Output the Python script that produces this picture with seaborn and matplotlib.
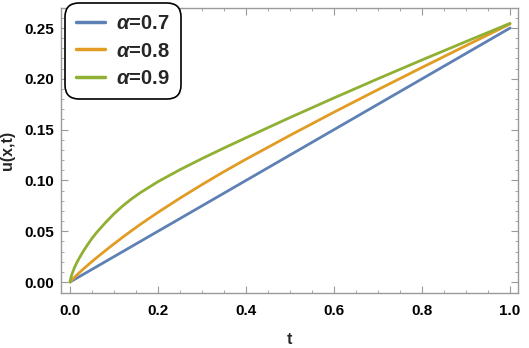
import numpy as np
import pandas as pd
import matplotlib
matplotlib.use("Agg")
import matplotlib.pyplot as plt
import seaborn as sns

# valeurs
t = [0, 0.0025, 0.005, 0.01, 0.015, 0.02, 0.03, 0.04, 0.05, 0.06, 0.08, 0.1, 0.12, 0.14,
     0.16, 0.2, 0.25, 0.3, 0.35, 0.4, 0.5, 0.6, 0.7, 0.8, 0.9, 1.0]
u_07 = [0, 0.000625, 0.00125, 0.0025, 0.00375, 0.005, 0.0075, 0.01, 0.0125, 0.015, 0.02,
        0.025, 0.03, 0.035, 0.04, 0.05, 0.0625, 0.075, 0.0875, 0.1, 0.125, 0.15, 0.175,
        0.2, 0.225, 0.25]
u_08 = [0, 0.00125, 0.0024, 0.0046, 0.0067, 0.00875, 0.0127, 0.0165, 0.0202, 0.0238, 0.0308,
        0.0376, 0.0442, 0.0506, 0.0568, 0.0686, 0.0826, 0.0959, 0.1087, 0.1209, 0.1444,
        0.1672, 0.1894, 0.2112, 0.2327, 0.2540]
u_09 = [0, 0.0051, 0.0085, 0.0141, 0.0187, 0.0228, 0.0302, 0.0368, 0.0430, 0.0485, 0.0582,
        0.0672, 0.0750, 0.0819, 0.0880, 0.0988, 0.1106, 0.1215, 0.1319, 0.1420, 0.1619,
        0.1812, 0.2001, 0.2186, 0.2367, 0.2546]
labels = [r"$\alpha$=0.7", r"$\alpha$=0.8", r"$\alpha$=0.9"]
couleurs = ["#5E81B5", "#E19C24", "#8FB032"]

sns.set_style("ticks")
plt.rcParams["font.family"] = ["Liberation Sans", "DejaVu Sans"]
plt.rcParams["font.weight"] = "bold"
plt.rcParams["mathtext.fontset"] = "custom"
plt.rcParams["mathtext.it"] = "Liberation Sans:italic:bold"
plt.rcParams["mathtext.rm"] = "Liberation Sans:bold"

fig = plt.figure(figsize=(5.29, 3.48), dpi=100)
ax = fig.add_axes([61 / 529, 1 - 293 / 348, 457 / 529, 285 / 348])

for serie, lab, c in zip([u_07, u_08, u_09], labels, couleurs):
    df = pd.DataFrame({"t": t, "u": serie})
    sns.lineplot(data=df, x="t", y="u", ax=ax, color=c, linewidth=2.0, label=lab)

ax.set_xlim(-0.0205, 1.018)
ax.set_ylim(-0.0108, 0.2697)
ax.set_xticks(np.arange(0, 1.01, 0.2))
ax.set_xticks(np.arange(0, 1.01, 0.05), minor=True)
ax.set_yticks(np.arange(0, 0.26, 0.05))
ax.set_yticks(np.arange(0, 0.27, 0.01), minor=True)
ax.set_xticklabels([f"{v:.1f}" for v in np.arange(0, 1.01, 0.2)])
ax.set_yticklabels([f"{v:.2f}" for v in np.arange(0, 0.26, 0.05)])

gris = "#9a9a9a"
for s in ax.spines.values():
    s.set_visible(True)
    s.set_color(gris)
    s.set_linewidth(1.0)
ax.tick_params(which="both", direction="in", top=True, right=True, color=gris,
               labelsize=11, labelcolor="black")
ax.tick_params(axis="x", pad=8)
ax.tick_params(axis="y", pad=5)
ax.tick_params(which="major", length=5, width=0.8)
ax.tick_params(which="minor", length=2.5, width=0.6)
for lbl in ax.get_xticklabels() + ax.get_yticklabels():
    lbl.set_fontweight("bold")

ax.set_xlabel("t", fontsize=11.5, fontweight="bold", labelpad=10)
ax.set_ylabel("u(x,t)", fontsize=11.5, fontweight="bold", labelpad=7)

leg = ax.legend(loc="upper left", bbox_to_anchor=(65 / 529, 1 - 3 / 348),
                bbox_transform=fig.transFigure, borderaxespad=0,
                prop={"size": 14.5, "weight": "bold"}, handlelength=1.45,
                handletextpad=0.55, labelspacing=0.42, borderpad=0.55,
                fancybox=True, framealpha=1, edgecolor="black")
leg.get_frame().set_linewidth(1.2)
leg.get_frame().set_boxstyle("round", pad=0, rounding_size=0.7)
for h in leg.get_lines():
    h.set_linewidth(2.5)

fig.savefig("out.png", dpi=100)
